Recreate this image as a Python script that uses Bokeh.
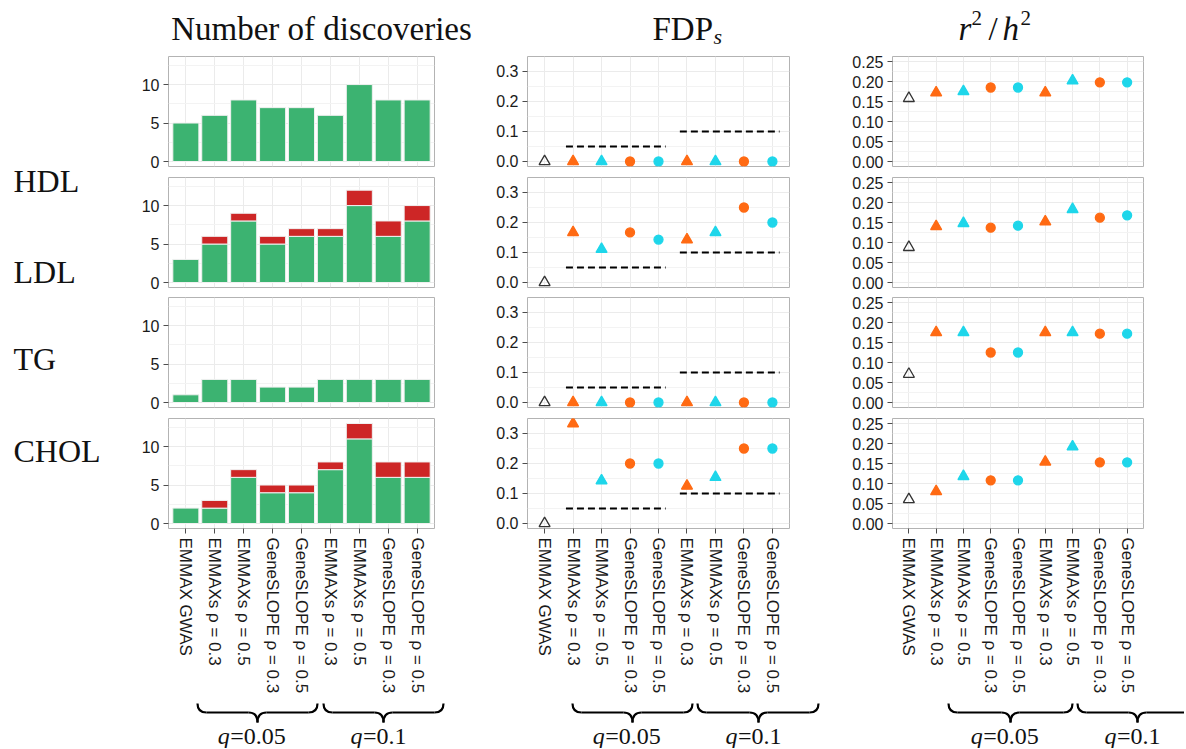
import numpy as np
from bokeh.plotting import figure
from bokeh.models import Range1d, FixedTicker, NumeralTickFormatter, ColumnDataSource
from bokeh.layouts import row, column
from bokeh.embed import file_html
from bokeh.resources import INLINE
from bokeh.core.properties import value

# ---------------- data ----------------
methods = ["EMMAX GWAS", "EMMAXs ρ = 0.3", "EMMAXs ρ = 0.5",
           "GeneSLOPE ρ = 0.3", "GeneSLOPE ρ = 0.5",
           "EMMAXs ρ = 0.3", "EMMAXs ρ = 0.5",
           "GeneSLOPE ρ = 0.3", "GeneSLOPE ρ = 0.5"]
traits = ["HDL", "LDL", "TG", "CHOL"]

true_hdl = [5, 6, 8, 7, 7, 6, 10, 8, 8]
true_ldl = [3, 5, 8, 5, 6, 6, 10, 6, 8]
true_tg = [1, 3, 3, 2, 2, 3, 3, 3, 3]
true_chol = [2, 2, 6, 4, 4, 7, 11, 6, 6]

false_hdl = [0, 0, 0, 0, 0, 0, 0, 0, 0]
false_ldl = [0, 1, 1, 1, 1, 1, 2, 2, 2]
false_tg = [0, 0, 0, 0, 0, 0, 0, 0, 0]
false_chol = [0, 1, 1, 1, 1, 1, 2, 2, 2]

fdp_hdl = [0, 0, 0, 0, 0, 0, 0, 0, 0]
fdp_ldl = [0, 0.167, 0.111, 0.167, 0.143, 0.143, 0.167, 0.25, 0.2]
fdp_tg = [0, 0, 0, 0, 0, 0, 0, 0, 0]
fdp_chol = [0, 0.333, 0.143, 0.2, 0.2, 0.125, 0.154, 0.25, 0.25]

r2h2_hdl = [0.158, 0.172, 0.175, 0.185, 0.185, 0.172, 0.202, 0.198, 0.198]
r2h2_ldl = [0.088, 0.140, 0.148, 0.137, 0.142, 0.152, 0.183, 0.162, 0.168]
r2h2_tg = [0.071, 0.175, 0.175, 0.125, 0.125, 0.175, 0.175, 0.172, 0.172]
r2h2_chol = [0.060, 0.080, 0.118, 0.108, 0.108, 0.154, 0.192, 0.153, 0.153]

q_levels = [0.05, 0.1]
q_labels = ["0.05", "0.1"]
q_first = [2, 6]
q_last = [5, 9]

method_marker = ["triangle", "triangle", "triangle", "circle", "circle",
                 "triangle", "triangle", "circle", "circle"]
method_group = ["gwas", "r3", "r5", "r3", "r5", "r3", "r5", "r3", "r5"]

TRUE = dict(HDL=true_hdl, LDL=true_ldl, TG=true_tg, CHOL=true_chol)
FALSE = dict(HDL=false_hdl, LDL=false_ldl, TG=false_tg, CHOL=false_chol)
FDP = dict(HDL=fdp_hdl, LDL=fdp_ldl, TG=fdp_tg, CHOL=fdp_chol)
R2H2 = dict(HDL=r2h2_hdl, LDL=r2h2_ldl, TG=r2h2_tg, CHOL=r2h2_chol)

# ---------------- style ----------------
GREEN = "#3CB371"
RED = "#CD2626"
ORANGE = "#FF6A13"
CYAN = "#1ED6EA"
COLOR = {"gwas": "#333333", "r3": ORANGE, "r5": CYAN}
SERIF = "Liberation Serif"
SANS = "Liberation Sans"

x_pos = list(range(1, len(methods) + 1))

YR = {"bar": (-0.65, 13.65), "fdp": (-0.0167, 0.35), "r2": (-0.0125, 0.2625)}
YT = {"bar": ([0, 5, 10], [2.5, 7.5, 12.5], "0"),
      "fdp": ([0, 0.1, 0.2, 0.3], [0.05, 0.15, 0.25, 0.35], "0.0"),
      "r2": ([0, 0.05, 0.1, 0.15, 0.2, 0.25],
             [0.025, 0.075, 0.125, 0.175, 0.225], "0.00")}

# column geometry: (border_left, frame_width, border_right)
COLS = {"bar": (40, 266, 36), "fdp": (57, 262, 51), "r2": (52, 251, 41)}
# row geometry: (border_top, frame_height, border_bottom)
ROWS = [(5, 110, 5), (6, 110, 5), (5, 110, 5), (6, 110, 172)]

PAGE_W = 1184
PAGE_H = 748
LEFT_W = 128
TITLE_H = 51
BRACE_Y0 = 700


def make_panel(kind, trait, rg, show_x):
    bl, fw, br = COLS[kind]
    bt, fh, bb = rg
    p = figure(width=bl + fw + br, height=bt + fh + bb,
               x_range=Range1d(0.4, 9.6), y_range=Range1d(*YR[kind]),
               output_backend="svg", toolbar_location=None,
               min_border_left=bl, min_border_right=br,
               min_border_top=bt, min_border_bottom=bb)
    p.outline_line_color = "#b3b3b3"
    p.outline_line_width = 1
    p.background_fill_color = "white"
    p.border_fill_color = "white"

    xt = FixedTicker(ticks=x_pos)
    p.xaxis.ticker = xt
    p.xgrid.ticker = xt
    p.xgrid.grid_line_color = "#ebebeb"
    p.xgrid.grid_line_width = 1

    ticks, minor, fmt = YT[kind]
    yt = FixedTicker(ticks=ticks, minor_ticks=minor)
    p.yaxis.ticker = yt
    p.ygrid.ticker = yt
    p.ygrid.grid_line_color = "#ebebeb"
    p.ygrid.minor_grid_line_color = "#f3f3f3"
    p.yaxis.formatter = NumeralTickFormatter(format=fmt)

    for ax in [p.xaxis[0], p.yaxis[0]]:
        ax.axis_line_color = None
        ax.minor_tick_line_color = None
        ax.major_tick_in = 0
        ax.major_tick_out = 5
        ax.major_tick_line_color = "#4d4d4d"
        ax.major_label_text_color = "#1a1a1a"
        ax.major_label_text_font = SANS
    p.yaxis.major_label_text_font_size = "16px"
    p.yaxis.major_label_standoff = 4

    if show_x:
        p.xaxis.major_label_overrides = {i: m for i, m in zip(x_pos, methods)}
        p.xaxis.major_label_orientation = -np.pi / 2
        p.xaxis.major_label_text_font_size = "17px"
        p.xaxis.major_label_standoff = 4
    else:
        p.xaxis.visible = False

    if kind == "bar":
        t = TRUE[trait]
        f = FALSE[trait]
        p.vbar(x=x_pos, bottom=0, top=t, width=0.9,
               fill_color=GREEN, line_color="#f0f0f0", line_width=1)
        xr = [x for x, v in zip(x_pos, f) if v > 0]
        b = [tv for tv, v in zip(t, f) if v > 0]
        tp = [tv + v for tv, v in zip(t, f) if v > 0]
        if xr:
            p.vbar(x=xr, bottom=b, top=tp, width=0.9,
                   fill_color=RED, line_color="#f0f0f0", line_width=1)
    else:
        vals = FDP[trait] if kind == "fdp" else R2H2[trait]
        if kind == "fdp":
            for q, a, bnd in zip(q_levels, q_first, q_last):
                p.segment(x0=[a - 0.25], x1=[bnd + 0.25], y0=[q], y1=[q],
                          line_color="black", line_width=2, line_dash="7 4")
        src = ColumnDataSource(dict(
            x=x_pos, y=vals, marker=method_marker,
            fill=[COLOR[g] for g in method_group],
            falpha=[0 if g == "gwas" else 1 for g in method_group],
            size=[11 if m == "triangle" else 9 for m in method_marker]))
        p.scatter(x="x", y="y", marker="marker", size="size", source=src,
                  fill_color="fill", fill_alpha="falpha",
                  line_color="fill", line_width=1.3)
    return p


def overlay(x0, x1, y0, y1):
    p = figure(width=x1 - x0, height=y1 - y0,
               x_range=Range1d(x0, x1), y_range=Range1d(y1, y0),
               output_backend="svg", toolbar_location=None,
               min_border=0, min_border_left=0, min_border_right=0,
               min_border_top=0, min_border_bottom=0)
    p.axis.visible = False
    p.grid.visible = False
    p.outline_line_color = None
    p.background_fill_color = None
    p.border_fill_color = None
    return p


def txt(p, x, y, s, size, style="normal", align="left"):
    # y is the vertical centre of the text line
    p.text(x=[x], y=[y], text=[s], text_font=value(SERIF),
           text_font_size=f"{size}px", text_font_style=style,
           text_color="#111111", text_align=align,
           text_baseline="middle")


# ---- left labels (page coordinates) ----
lab = overlay(0, LEFT_W, 0, PAGE_H)
for tr, yc in zip(traits, [180, 271, 358, 450]):
    txt(lab, 13, yc, tr, 32)

# ---- titles ----
tit = overlay(LEFT_W, PAGE_W, 0, TITLE_H)
txt(tit, 321, 28, "Number of discoveries", 33, align="center")
txt(tit, 652, 28, "FDP", 33)
txt(tit, 713, 36, "s", 22, style="italic")
txt(tit, 958, 28, "r", 33, style="italic")
txt(tit, 971, 17, "2", 21)
txt(tit, 988, 28, "/", 33)
txt(tit, 1002, 28, "h", 33, style="italic")
txt(tit, 1020, 17, "2", 21)

# ---- braces ----
br = overlay(LEFT_W, PAGE_W, BRACE_Y0, PAGE_H)


def brace(p, xa, xb, xm, ytop=703, ymid=712, ytip=722, r=9):
    kw = dict(line_color="black", line_width=2.2)
    p.quadratic(x0=[xa, xb], y0=[ytop, ytop], x1=[xa + r, xb - r], y1=[ymid, ymid],
                cx=[xa, xb], cy=[ymid, ymid], **kw)
    p.segment(x0=[xa + r, xm + r], y0=[ymid, ymid], x1=[xm - r, xb - r],
              y1=[ymid, ymid], **kw)
    p.quadratic(x0=[xm - r, xm + r], y0=[ymid, ymid], x1=[xm, xm], y1=[ytip, ytip],
                cx=[xm, xm], cy=[ymid, ymid], **kw)


BRACES = [(197, 317, 257), (323, 443, 383),
          (572, 692, 632), (697, 818, 758),
          (948, 1072, 1010), (1077, 1198, 1137)]
for i, (xa, xb, xm) in enumerate(BRACES):
    brace(br, xa, xb, xm)
    lbl = q_labels[i % 2]
    w = 12 + 13.5 * len("=" + lbl)
    x0 = xm - w / 2
    txt(br, x0, 735, "q", 24, style="italic")
    txt(br, x0 + 12.5, 735, "=" + lbl, 24)

rows = []
for i, tr in enumerate(traits):
    last = i == len(traits) - 1
    rows.append(row(make_panel("bar", tr, ROWS[i], last),
                    make_panel("fdp", tr, ROWS[i], last),
                    make_panel("r2", tr, ROWS[i], last)))

layout = row(lab, column(tit, *rows, br))
open("out.html", "w").write(file_html(layout, INLINE))
